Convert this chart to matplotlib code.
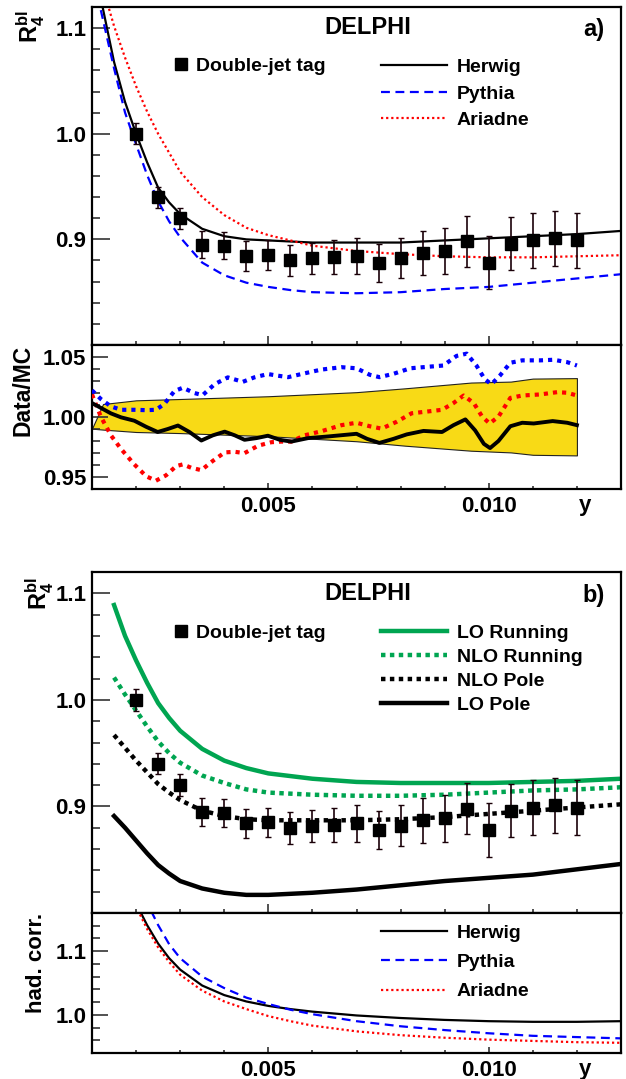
import matplotlib
matplotlib.use('Agg')
import matplotlib.pyplot as plt
from matplotlib.lines import Line2D
from matplotlib.ticker import FixedLocator, MultipleLocator, FormatStrFormatter

plt.rcParams['font.family'] = ['Liberation Sans', 'DejaVu Sans']
plt.rcParams['font.weight'] = 'bold'
plt.rcParams['axes.labelweight'] = 'bold'
plt.rcParams['mathtext.fontset'] = 'custom'
plt.rcParams['mathtext.rm'] = 'Liberation Sans:bold'
plt.rcParams['mathtext.it'] = 'Liberation Sans:bold'
plt.rcParams['mathtext.bf'] = 'Liberation Sans:bold'

# measured R4bl, double-jet tag
y_data = [0.0020, 0.0025, 0.0030, 0.0035, 0.0040, 0.0045, 0.0050, 0.0055, 0.0060, 0.0065, 0.0070,
          0.0075, 0.0080, 0.0085, 0.0090, 0.0095, 0.0100, 0.0105, 0.0110, 0.0115, 0.0120]
r4_data = [1.000, 0.940, 0.920, 0.895, 0.894, 0.884, 0.885, 0.880, 0.882, 0.883, 0.884,
           0.878, 0.882, 0.887, 0.889, 0.898, 0.878, 0.896, 0.899, 0.901, 0.899]
r4_err = [0.010, 0.010, 0.010, 0.013, 0.013, 0.014, 0.014, 0.015, 0.015, 0.016, 0.017,
          0.018, 0.019, 0.021, 0.022, 0.024, 0.025, 0.025, 0.026, 0.026, 0.026]

# MC predictions, panel a)
y_mc = [0.0012, 0.0015, 0.00175, 0.0020, 0.00225, 0.0025, 0.00275, 0.0030, 0.0035, 0.0040, 0.0045,
        0.0050, 0.0055, 0.0060, 0.0070, 0.0080, 0.0090, 0.0100, 0.0110, 0.0120, 0.0130]
herwig = [1.128, 1.068, 1.030, 1.000, 0.973, 0.949, 0.935, 0.924, 0.910, 0.903, 0.900,
          0.899, 0.898, 0.897, 0.897, 0.897, 0.899, 0.901, 0.903, 0.905, 0.908]
pythia = [1.117, 1.062, 1.020, 0.990, 0.961, 0.936, 0.917, 0.902, 0.878, 0.866, 0.859,
          0.855, 0.852, 0.850, 0.849, 0.850, 0.853, 0.855, 0.859, 0.863, 0.867]
ariadne = [1.145, 1.102, 1.072, 1.045, 1.021, 1.000, 0.982, 0.964, 0.940, 0.923, 0.911,
           0.904, 0.899, 0.894, 0.889, 0.886, 0.884, 0.883, 0.883, 0.884, 0.885]

# Data/MC ratios
rh_x = [0.00100, 0.00121, 0.00143, 0.00166, 0.00196, 0.00223, 0.00249, 0.00272, 0.00295, 0.00321,
        0.00348, 0.00374, 0.00401, 0.00424, 0.00446, 0.00473, 0.00499, 0.00526, 0.00552, 0.00590,
        0.00636, 0.00700, 0.00724, 0.00752, 0.00784, 0.00814, 0.00852, 0.00894, 0.00920, 0.00947,
        0.00969, 0.00989, 0.01003, 0.01022, 0.01049, 0.01076, 0.01102, 0.01145, 0.01178, 0.01200]
rh_y = [1.0116, 1.0074, 1.0030, 0.9997, 0.9969, 0.9918, 0.9875, 0.9900, 0.9929, 0.9875,
        0.9804, 0.9847, 0.9878, 0.9847, 0.9810, 0.9824, 0.9844, 0.9810, 0.9795, 0.9824,
        0.9838, 0.9860, 0.9818, 0.9784, 0.9818, 0.9855, 0.9884, 0.9875, 0.9932, 0.9980,
        0.9889, 0.9776, 0.9741, 0.9800, 0.9923, 0.9952, 0.9946, 0.9966, 0.9952, 0.9932]
rp_x = [0.00100, 0.00120, 0.00143, 0.00166, 0.00196, 0.00223, 0.00245, 0.00264, 0.00287, 0.00306,
        0.00332, 0.00351, 0.00378, 0.00408, 0.00442, 0.00468, 0.00499, 0.00522, 0.00545, 0.00575,
        0.00620, 0.00666, 0.00700, 0.00730, 0.00752, 0.00784, 0.00822, 0.00867, 0.00897, 0.00927,
        0.00950, 0.00972, 0.00991, 0.01006, 0.01025, 0.01049, 0.01076, 0.01117, 0.01147, 0.01178, 0.01200]
rp_y = [1.0222, 1.0150, 1.0088, 1.0060, 1.0060, 1.0057, 1.0060, 1.0108, 1.0216, 1.0244,
        1.0200, 1.0182, 1.0273, 1.0330, 1.0293, 1.0330, 1.0358, 1.0344, 1.0332, 1.0358,
        1.0395, 1.0415, 1.0406, 1.0352, 1.0332, 1.0360, 1.0406, 1.0420, 1.0429, 1.0509,
        1.0528, 1.0429, 1.0315, 1.0273, 1.0344, 1.0452, 1.0472, 1.0472, 1.0477, 1.0457, 1.0429]
ra_x = [0.00100, 0.00120, 0.00143, 0.00166, 0.00196, 0.00223, 0.00245, 0.00268, 0.00291, 0.00306,
        0.00325, 0.00348, 0.00374, 0.00401, 0.00424, 0.00446, 0.00477, 0.00507, 0.00529, 0.00552,
        0.00582, 0.00620, 0.00666, 0.00700, 0.00730, 0.00757, 0.00791, 0.00825, 0.00859, 0.00894,
        0.00920, 0.00943, 0.00966, 0.00985, 0.01002, 0.01022, 0.01049, 0.01076, 0.01117, 0.01155,
        0.01178, 0.01200]
ra_y = [1.0188, 1.0003, 0.9847, 0.9733, 0.9605, 0.9506, 0.9469, 0.9514, 0.9591, 0.9605,
        0.9577, 0.9557, 0.9634, 0.9705, 0.9710, 0.9699, 0.9761, 0.9790, 0.9795, 0.9795,
        0.9847, 0.9881, 0.9932, 0.9952, 0.9923, 0.9903, 0.9960, 1.0031, 1.0045, 1.0060,
        1.0116, 1.0179, 1.0116, 1.0003, 0.9946, 1.0003, 1.0159, 1.0179, 1.0188, 1.0207,
        1.0202, 1.0179]
band_x = [0.00100, 0.00125, 0.0020, 0.0030, 0.0050, 0.0070, 0.0081, 0.0096, 0.0105, 0.0110, 0.0120]
band_hi = [0.9903, 1.0108, 1.0139, 1.0150, 1.0173, 1.0207, 1.0239, 1.0287, 1.0295, 1.0320, 1.0324]
band_lo = [0.9903, 0.9895, 0.9875, 0.9866, 0.9840, 0.9798, 0.9761, 0.9719, 0.9705, 0.9685, 0.9680]

# theory predictions, panel b)
y_th = [0.0015, 0.00175, 0.0020, 0.00225, 0.0025, 0.00275, 0.0030, 0.0035, 0.0040, 0.0045, 0.0050,
        0.0060, 0.0070, 0.0080, 0.0090, 0.0100, 0.0110, 0.0120, 0.0130]
lo_running = [1.089, 1.060, 1.037, 1.016, 0.997, 0.983, 0.971, 0.954, 0.943, 0.936, 0.931,
              0.926, 0.923, 0.922, 0.922, 0.922, 0.923, 0.924, 0.926]
nlo_running = [1.021, 1.005, 0.990, 0.975, 0.961, 0.950, 0.941, 0.929, 0.922, 0.916, 0.913,
               0.911, 0.910, 0.910, 0.911, 0.913, 0.915, 0.916, 0.918]
nlo_pole = [0.967, 0.955, 0.943, 0.932, 0.921, 0.913, 0.906, 0.896, 0.891, 0.888, 0.887,
            0.887, 0.887, 0.888, 0.890, 0.893, 0.896, 0.899, 0.902]
lo_pole = [0.891, 0.880, 0.868, 0.856, 0.845, 0.837, 0.830, 0.823, 0.819, 0.817, 0.817,
           0.819, 0.822, 0.826, 0.830, 0.833, 0.836, 0.841, 0.846]

# hadronisation corrections
y_had = [0.0018, 0.0020, 0.00225, 0.0025, 0.00275, 0.0030, 0.0035, 0.0040, 0.0045, 0.0050,
         0.0055, 0.0060, 0.0070, 0.0080, 0.0090, 0.0100, 0.0110, 0.0120, 0.0130]
had_herwig = [1.210, 1.175, 1.141, 1.112, 1.089, 1.071, 1.046, 1.031, 1.021, 1.014,
              1.009, 1.005, 0.999, 0.995, 0.992, 0.990, 0.989, 0.989, 0.990]
had_pythia = [1.270, 1.220, 1.176, 1.141, 1.111, 1.089, 1.060, 1.042, 1.027, 1.017,
              1.008, 1.001, 0.990, 0.982, 0.976, 0.971, 0.967, 0.965, 0.963]
had_ariadne = [1.210, 1.170, 1.135, 1.106, 1.083, 1.063, 1.038, 1.021, 1.009, 0.998,
               0.990, 0.983, 0.974, 0.968, 0.964, 0.961, 0.959, 0.957, 0.956]

GREEN = '#00a551'
BAND = '#f8da16'
W, H = 626, 1079

fig = plt.figure(figsize=(W / 100, H / 100), dpi=100)


def make_axes(top, bottom):
    return fig.add_axes([92 / W, 1 - bottom / H, 529 / W, (bottom - top) / H])


def style(ax, ylim, majors, minor, yfmt, xlabels, ymaj_len, ymin_len, xmaj_len, xmin_len):
    ax.set_xlim(0.001, 0.013)
    ax.set_ylim(*ylim)
    ax.xaxis.set_major_locator(FixedLocator([0.005, 0.010]))
    ax.xaxis.set_minor_locator(MultipleLocator(0.001))
    ax.xaxis.set_major_formatter(FormatStrFormatter('%.3f'))
    ax.yaxis.set_major_locator(FixedLocator(majors))
    ax.yaxis.set_minor_locator(MultipleLocator(minor))
    ax.yaxis.set_major_formatter(FormatStrFormatter(yfmt))
    ax.tick_params(which='both', direction='in', top=False, right=False, width=1.2,
                   labelsize=16, color='#333333')
    ax.tick_params(axis='y', which='major', length=ymaj_len, pad=4)
    ax.tick_params(axis='y', which='minor', length=ymin_len)
    ax.tick_params(axis='x', which='major', length=xmaj_len, pad=5, labelbottom=xlabels)
    ax.tick_params(axis='x', which='minor', length=xmin_len)
    for s in ax.spines.values():
        s.set_linewidth(1.6)
    if xlabels:
        ax.set_xlabel('y', fontsize=16, fontweight='bold')
        ax.xaxis.set_label_coords(0.932, -0.045)


def draw_data(ax):
    ax.errorbar(y_data, r4_data, yerr=r4_err, fmt='s', color='k', ms=8.5,
                ecolor='#1a0008', elinewidth=1.2, capsize=2.2, capthick=1.0, zorder=6)


data_handle = Line2D([], [], marker='s', ls='none', color='k', ms=8.5)

# ---------------- panel a) ----------------
ax_a = make_axes(7, 345)
la1, = ax_a.plot(y_mc, herwig, color='k', lw=1.6, label='Herwig')
la2, = ax_a.plot(y_mc, pythia, color='#0000ff', lw=1.6, ls=(0, (4, 2.5)), label='Pythia')
la3, = ax_a.plot(y_mc, ariadne, color='#ff0000', lw=1.6, ls=(0, (1, 1.3)), label='Ariadne')
draw_data(ax_a)
style(ax_a, (0.8, 1.12), [0.9, 1.0, 1.1], 0.02, '%.1f', False, 13, 6, 6.5, 3)
ax_a.set_ylabel(r'$\mathbf{R_4^{bl}}$', fontsize=17, loc='top')
ax_a.yaxis.set_label_coords(-0.085, 0.99)
ax_a.text(0.522, 0.938, 'DELPHI', transform=ax_a.transAxes, fontsize=17, ha='center', va='center')
ax_a.text(0.949, 0.932, 'a)', transform=ax_a.transAxes, fontsize=17, ha='center', va='center')
leg = ax_a.legend(handles=[data_handle], labels=['Double-jet tag'], loc='center left',
                  bbox_to_anchor=(0.155, 0.826), frameon=False, fontsize=14, handlelength=0.7,
                  handletextpad=0.45, borderpad=0, borderaxespad=0)
ax_a.add_artist(leg)
ax_a.legend(handles=[la1, la2, la3], loc='center left', bbox_to_anchor=(0.546, 0.743),
            frameon=False, fontsize=14, handlelength=3.4, handletextpad=0.5,
            labelspacing=0.46, borderpad=0, borderaxespad=0)

# ---------------- ratio a) ----------------
ax_ar = make_axes(345, 489)
ax_ar.fill_between(band_x, band_lo, band_hi, facecolor=BAND, edgecolor='#222222', lw=0.8, zorder=1)
ax_ar.plot(rp_x, rp_y, color='#0000ff', lw=3, ls=(0, (1, 1.2)), zorder=3)
ax_ar.plot(ra_x, ra_y, color='#ff0000', lw=3, ls=(0, (1, 1.2)), zorder=3)
ax_ar.plot(rh_x, rh_y, color='k', lw=2.8, zorder=4)
style(ax_ar, (0.94, 1.06), [0.95, 1.00, 1.05], 0.01, '%.2f', True, 11.5, 5.5, 4, 2.5)
ax_ar.set_ylabel('Data/MC', fontsize=16.5, loc='top')
ax_ar.yaxis.set_label_coords(-0.108, 1.0)

# ---------------- panel b) ----------------
ax_b = make_axes(572, 913)
lb1, = ax_b.plot(y_th, lo_running, color=GREEN, lw=3.2, label='LO Running')
lb2, = ax_b.plot(y_th, nlo_running, color=GREEN, lw=3.2, ls=(0, (1, 1)), label='NLO Running')
lb3, = ax_b.plot(y_th, nlo_pole, color='k', lw=3.2, ls=(0, (1, 1)), label='NLO Pole')
lb4, = ax_b.plot(y_th, lo_pole, color='k', lw=3.2, label='LO Pole')
draw_data(ax_b)
style(ax_b, (0.8, 1.12), [0.9, 1.0, 1.1], 0.02, '%.1f', False, 13, 6, 6.5, 3)
ax_b.set_ylabel(r'$\mathbf{R_4^{bl}}$', fontsize=17, loc='top')
ax_b.yaxis.set_label_coords(-0.068, 0.985)
ax_b.text(0.522, 0.938, 'DELPHI', transform=ax_b.transAxes, fontsize=17, ha='center', va='center')
ax_b.text(0.949, 0.932, 'b)', transform=ax_b.transAxes, fontsize=17, ha='center', va='center')
leg = ax_b.legend(handles=[data_handle], labels=['Double-jet tag'], loc='center left',
                  bbox_to_anchor=(0.155, 0.822), frameon=False, fontsize=14, handlelength=0.7,
                  handletextpad=0.45, borderpad=0, borderaxespad=0)
ax_b.add_artist(leg)
ax_b.legend(handles=[lb1, lb2, lb3, lb4], loc='center left', bbox_to_anchor=(0.546, 0.716),
            frameon=False, fontsize=14, handlelength=3.4, handletextpad=0.5,
            labelspacing=0.33, borderpad=0, borderaxespad=0)

# ---------------- hadronisation corrections ----------------
ax_h = make_axes(913, 1053)
lh1, = ax_h.plot(y_had, had_herwig, color='k', lw=1.6, label='Herwig')
lh2, = ax_h.plot(y_had, had_pythia, color='#0000ff', lw=1.6, ls=(0, (4, 2.5)), label='Pythia')
lh3, = ax_h.plot(y_had, had_ariadne, color='#ff0000', lw=1.6, ls=(0, (1, 1.3)), label='Ariadne')
style(ax_h, (0.94, 1.16), [1.0, 1.1], 0.02, '%.1f', True, 11.5, 5.5, 4, 2.5)
ax_h.set_ylabel('had. corr.', fontsize=16, loc='top')
ax_h.yaxis.set_label_coords(-0.085, 1.0)
ax_h.legend(handles=[lh1, lh2, lh3], loc='center left', bbox_to_anchor=(0.546, 0.648),
            frameon=False, fontsize=14, handlelength=3.4, handletextpad=0.5,
            labelspacing=0.6, borderpad=0, borderaxespad=0)

fig.savefig('out.png', dpi=100)
